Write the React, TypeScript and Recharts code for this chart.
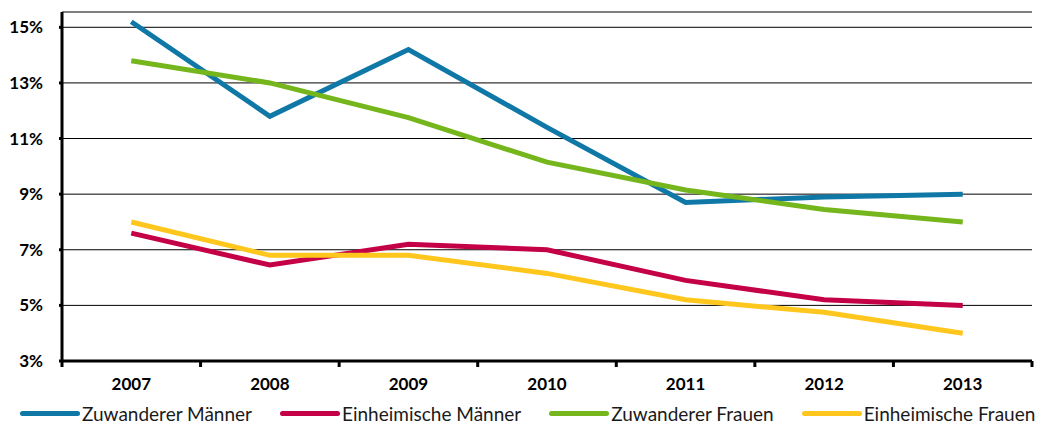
import { LineChart, Line, XAxis, YAxis, CartesianGrid, Legend } from 'recharts';

const years = ['2007', '2008', '2009', '2010', '2011', '2012', '2013'];

// Anteile in Prozent
const zuwandererMaenner = [15.2, 11.8, 14.2, 11.4, 8.7, 8.9, 9.0];
const einheimischeMaenner = [7.6, 6.45, 7.2, 7.0, 5.9, 5.2, 5.0];
const zuwandererFrauen = [13.8, 13.0, 11.75, 10.15, 9.15, 8.45, 8.0];
const einheimischeFrauen = [8.0, 6.8, 6.8, 6.15, 5.2, 4.75, 4.0];

const yTicks = [3, 5, 7, 9, 11, 13, 15];

const SERIES = [
  { key: 'zm', name: 'Zuwanderer Männer', color: '#0f78a6', values: zuwandererMaenner },
  { key: 'em', name: 'Einheimische Männer', color: '#c40047', values: einheimischeMaenner },
  { key: 'zf', name: 'Zuwanderer Frauen', color: '#74b61c', values: zuwandererFrauen },
  { key: 'ef', name: 'Einheimische Frauen', color: '#ffc61e', values: einheimischeFrauen },
];

const data = years.map((year, i) => {
  const row: Record<string, string | number> = { year };
  SERIES.forEach((s) => {
    row[s.key] = s.values[i];
  });
  return row;
});

const FONT = 'Lato, "Open Sans", sans-serif';
const WIDTH = 1037;
const HEIGHT = 425;
const Y_AXIS_W = 62;
const MARGIN_RIGHT = 5;
// halbe Kategoriebreite, Trennstriche liegen zwischen den Jahren
const HALF_BAND = (WIDTH - Y_AXIS_W - MARGIN_RIGHT) / years.length / 2;

/** Jahreslabel mit Trennstrichen an den Kategoriegrenzen */
function YearTick(props: any) {
  const { x, y, payload, index } = props;
  return (
    <g>
      <line x1={x - HALF_BAND} x2={x - HALF_BAND} y1={y} y2={y + 6} stroke="#000" strokeWidth={3} />
      {index === years.length - 1 && (
        <line x1={x + HALF_BAND} x2={x + HALF_BAND} y1={y} y2={y + 6} stroke="#000" strokeWidth={3} />
      )}
      <text x={x} y={y + 29} textAnchor="middle" fill="#000" fontSize={17} fontWeight={700} fontFamily={FONT}>
        {payload.value}
      </text>
    </g>
  );
}

/** Legende mit langen Linien-Symbolen */
function LineLegend() {
  return (
    <div
      style={{
        display: 'flex',
        alignItems: 'center',
        height: 24,
        paddingLeft: 20,
        fontFamily: FONT,
        fontSize: 19,
        color: '#1a1a1a',
        whiteSpace: 'nowrap',
      }}
    >
      {SERIES.map((s) => (
        <div key={s.key} style={{ display: 'flex', alignItems: 'center', flexShrink: 0, marginRight: 28 }}>
          <span style={{ display: 'inline-block', width: 60, height: 5, borderRadius: 3, background: s.color, marginRight: 2 }} />
          <span>{s.name}</span>
        </div>
      ))}
    </div>
  );
}

export default function App() {
  return (
    <div style={{ position: 'absolute', left: 0, top: 0, background: '#fff' }}>
      <LineChart width={WIDTH} height={HEIGHT} data={data} margin={{ top: 12, right: MARGIN_RIGHT, left: 0, bottom: 0 }}>
        <CartesianGrid vertical={false} stroke="#000" strokeWidth={1} />
        <XAxis
          dataKey="year"
          scale="band"
          height={40}
          axisLine={{ stroke: '#000', strokeWidth: 3 }}
          tickLine={false}
          tickSize={0}
          tickMargin={0}
          interval={0}
          tick={<YearTick />}
        />
        <YAxis
          width={Y_AXIS_W}
          domain={[3, 15.55]}
          ticks={yTicks}
          tickFormatter={(v: number) => `${v}%`}
          axisLine={{ stroke: '#000', strokeWidth: 3 }}
          tickLine={{ stroke: '#000', strokeWidth: 3 }}
          tickSize={3}
          tickMargin={16}
          allowDataOverflow
          tick={{ fill: '#000', fontSize: 17, fontWeight: 700, fontFamily: FONT }}
        />
        <Legend verticalAlign="bottom" content={<LineLegend />} />
        {SERIES.map((s) => (
          <Line
            key={s.key}
            dataKey={s.key}
            name={s.name}
            stroke={s.color}
            strokeWidth={5}
            dot={false}
            isAnimationActive={false}
          />
        ))}
      </LineChart>
    </div>
  );
}
